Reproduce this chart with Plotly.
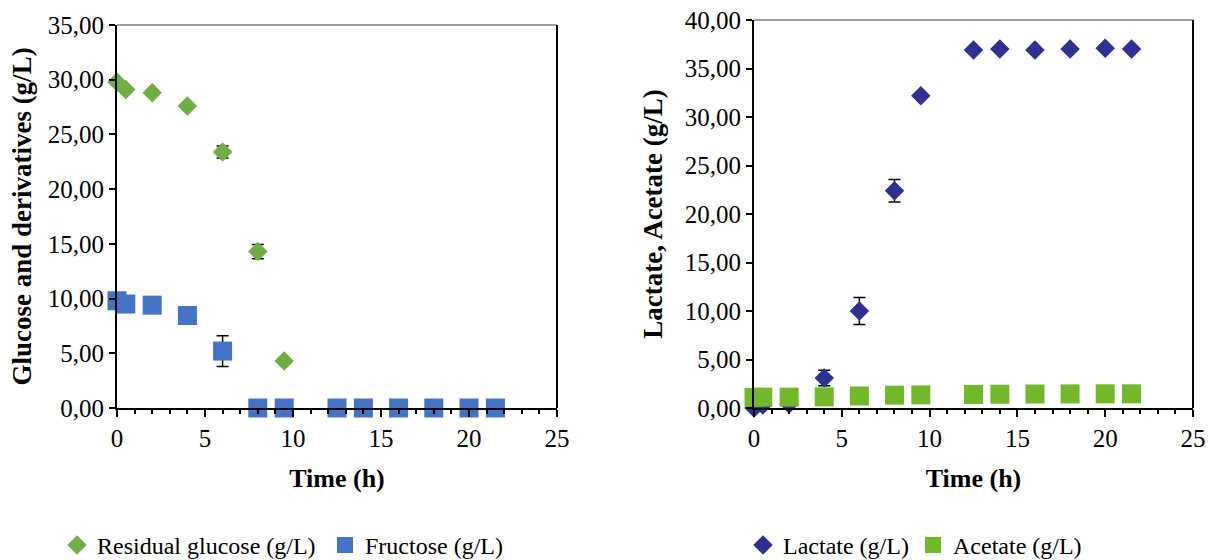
import plotly.graph_objects as go

# ---- data ----
glucose_t = [0, 0.5, 2, 4, 6, 8, 9.5]
glucose_v = [29.8, 29.1, 28.8, 27.6, 23.4, 14.3, 4.3]
glucose_err = [0, 0, 0, 0, 0.55, 0.65, 0]

fructose_t = [0, 0.5, 2, 4, 6, 8, 9.5, 12.5, 14, 16, 18, 20, 21.5]
fructose_v = [9.8, 9.5, 9.4, 8.45, 5.2, 0, 0, 0, 0, 0, 0, 0, 0]
fructose_err = [0, 0, 0, 0, 1.4, 0, 0, 0, 0, 0, 0, 0, 0]

lactate_t = [0, 0.5, 2, 4, 6, 8, 9.5, 12.5, 14, 16, 18, 20, 21.5]
lactate_v = [0.0, 0.3, 0.4, 3.1, 10.0, 22.4, 32.2, 36.9, 37.0, 36.9, 37.0, 37.1, 37.0]
lactate_err = [0, 0, 0, 0.8, 1.4, 1.15, 0, 0, 0, 0, 0, 0, 0]

acetate_t = [0, 0.5, 2, 4, 6, 8, 9.5, 12.5, 14, 16, 18, 20, 21.5]
acetate_v = [1.10, 1.12, 1.12, 1.15, 1.24, 1.32, 1.35, 1.40, 1.42, 1.44, 1.45, 1.46, 1.46]

x_ticks = [0, 5, 10, 15, 20, 25]

FONT = "Liberation Serif"
C_GLU = "#70AD47"
C_FRU = "#4472C4"
C_LAC = "#2E3192"
C_ACE = "#72B82B"
TICK_SIZE = 25
XTITLE_SIZE = 26
YTITLE_SIZE = 27
LEG_SIZE = 24

fig = go.Figure()

def err(arr):
    return dict(type="data", array=arr, color="black", thickness=1.5, width=6, visible=True)

fig.add_trace(go.Scatter(x=glucose_t, y=glucose_v, mode="markers", name="Residual glucose (g/L)",
                         marker=dict(symbol="diamond", size=15, color=C_GLU),
                         error_y=err(glucose_err), cliponaxis=False,
                         xaxis="x", yaxis="y", legend="legend"))
fig.add_trace(go.Scatter(x=fructose_t, y=fructose_v, mode="markers", name="Fructose (g/L)",
                         marker=dict(symbol="square", size=19, color=C_FRU),
                         error_y=err(fructose_err), cliponaxis=False,
                         xaxis="x", yaxis="y", legend="legend"))
fig.add_trace(go.Scatter(x=lactate_t, y=lactate_v, mode="markers", name="Lactate (g/L)",
                         marker=dict(symbol="diamond", size=15, color=C_LAC),
                         error_y=err(lactate_err), cliponaxis=False,
                         xaxis="x2", yaxis="y2", legend="legend2"))
fig.add_trace(go.Scatter(x=acetate_t, y=acetate_v, mode="markers", name="Acetate (g/L)",
                         marker=dict(symbol="square", size=19, color=C_ACE),
                         cliponaxis=False,
                         xaxis="x2", yaxis="y2", legend="legend2"))

W, H = 1210, 560
yb = 1 - 408 / H

def xax(domain, anchor):
    return dict(domain=domain, anchor=anchor, range=[0, 25], tickvals=x_ticks,
                showgrid=False, zeroline=False, showline=True, linecolor="black", linewidth=2,
                ticks="outside", ticklen=7, tickwidth=2, tickcolor="black",
                minor=dict(dtick=1, ticks="outside", ticklen=4, tickwidth=1.5, tickcolor="black", showgrid=False),
                tickfont=dict(family=FONT, size=TICK_SIZE, color="black"),
                title=dict(text="<b>Time (h)</b>", font=dict(family=FONT, size=XTITLE_SIZE, color="black"), standoff=18),
                automargin=False, fixedrange=True)

def yax(domain, anchor, rng, title, standoff):
    return dict(domain=domain, anchor=anchor, range=rng, dtick=5, tickformat=".2f",
                showgrid=False, zeroline=False, showline=True, linecolor="black", linewidth=2,
                ticks="outside", ticklen=6, tickwidth=2, tickcolor="black",
                tickfont=dict(family=FONT, size=TICK_SIZE, color="black"),
                title=dict(text="<b>" + title + "</b>", font=dict(family=FONT, size=YTITLE_SIZE, color="black"), standoff=standoff),
                automargin=False, fixedrange=True)

fig.update_layout(
    width=W, height=H,
    margin=dict(l=0, r=0, t=0, b=0, autoexpand=False),
    paper_bgcolor="white", plot_bgcolor="white",
    separators=",.",
    font=dict(family=FONT, size=20, color="black"),
    xaxis=xax([117 / W, 557 / W], "y"),
    yaxis=yax([yb, 1 - 25 / H], "x", [0, 35], "Glucose and derivatives (g/L)", 8),
    xaxis2=xax([754 / W, 1193 / W], "y2"),
    yaxis2=yax([yb, 1 - 20 / H], "x2", [0, 40], "Lactate, Acetate (g/L)", 14),
    legend=dict(orientation="h", x=57 / W, xanchor="left", y=-0.014, yanchor="bottom",
                font=dict(family=FONT, size=LEG_SIZE, color="black"), itemwidth=30,
                entrywidth=223, bgcolor="rgba(0,0,0,0)"),
    legend2=dict(orientation="h", x=743 / W, xanchor="left", y=-0.014, yanchor="bottom",
                 font=dict(family=FONT, size=LEG_SIZE, color="black"), itemwidth=30,
                 entrywidth=125, bgcolor="rgba(0,0,0,0)"),
    showlegend=True,
)

for xr, yr in (("x domain", "y domain"), ("x2 domain", "y2 domain")):
    fig.add_shape(type="line", xref=xr, yref=yr, x0=0, x1=1, y0=1, y1=1,
                  line=dict(color="#7f7f7f", width=1.5), layer="above")
    fig.add_shape(type="line", xref=xr, yref=yr, x0=1, x1=1, y0=0, y1=1,
                  line=dict(color="black", width=2), layer="above")

fig.write_html("out.html")
